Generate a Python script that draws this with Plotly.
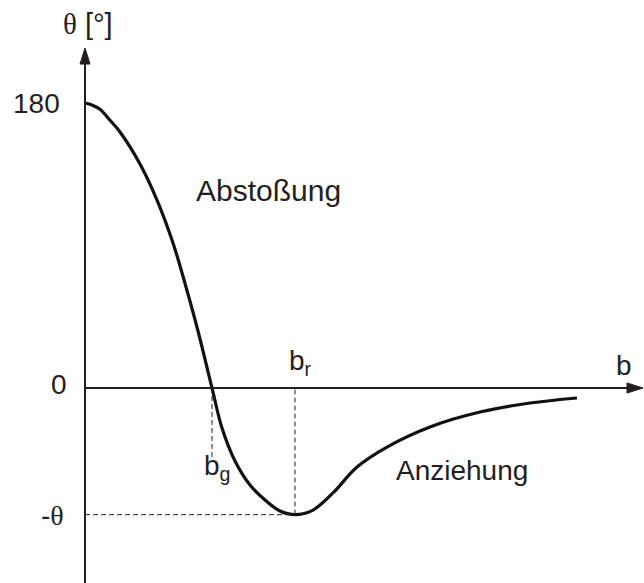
import plotly.graph_objects as go

# Deflection angle theta (degrees) versus impact parameter b (arbitrary units)
b_vals = [0.00, 0.07, 0.15, 0.25, 0.35, 0.55, 0.72, 0.88, 1.01, 1.13, 1.27, 1.37, 1.50, 1.65,
          1.80, 1.95, 2.10, 2.28, 2.48, 2.72, 3.02, 3.45, 3.95, 4.45, 4.92]
theta_vals = [180.0, 178.7, 176.1, 169.1, 161.7, 141.5, 118.7, 91.6, 63.8, 36.0, 0.0, -25.3,
              -46.1, -61.3, -70.7, -77.7, -80.0, -77.1, -66.3, -49.9, -37.3, -24.6, -15.2,
              -9.5, -6.3]

b_g = 1.27        # glory impact parameter (theta = 0)
b_r = 2.10        # rainbow impact parameter (theta minimum)
theta_min = -80.0

tick_labels = ["180", "0", "-θ"]
tick_values = [180.0, 0.0, theta_min]

X_RANGE = [-0.85, 5.59]
Y_RANGE = [-123.16, 245.05]
INK = "#231f20"
SANS = "Liberation Sans, Arial, sans-serif"
SERIF = "Liberation Serif, Times New Roman, serif"

fig = go.Figure()

# the deflection curve
fig.add_trace(go.Scatter(
    x=b_vals, y=theta_vals, mode="lines",
    line=dict(color="#111111", width=3.2, shape="spline", smoothing=1.0),
    hoverinfo="skip", showlegend=False,
))

shapes = []
# axes with arrow heads
y_tip, y_base = 214.7, 204.6
x_tip, x_base = 5.58, 5.42
shapes.append(dict(type="line", xref="x", yref="y", x0=0, x1=0, y0=Y_RANGE[0], y1=y_base + 1,
                   line=dict(color=INK, width=2)))
shapes.append(dict(type="path", xref="x", yref="y",
                   path=f"M 0,{y_tip} L -0.05,{y_base} L 0.05,{y_base} Z",
                   fillcolor=INK, line=dict(color=INK, width=1)))
shapes.append(dict(type="line", xref="x", yref="y", x0=0, x1=x_base + 0.01, y0=0, y1=0,
                   line=dict(color=INK, width=2)))
shapes.append(dict(type="path", xref="x", yref="y",
                   path=f"M {x_tip},0 L {x_base},3.2 L {x_base},-3.2 Z",
                   fillcolor=INK, line=dict(color=INK, width=1)))

# dashed guide lines
dash = "5px,3px"
shapes.append(dict(type="line", xref="x", yref="y", x0=b_g, x1=b_g, y0=0, y1=-44,
                   line=dict(color=INK, width=1, dash=dash)))
shapes.append(dict(type="line", xref="x", yref="y", x0=b_r, x1=b_r, y0=-1, y1=theta_min,
                   line=dict(color=INK, width=1, dash=dash)))
shapes.append(dict(type="line", xref="x", yref="y", x0=0, x1=b_r, y0=theta_min, y1=theta_min,
                   line=dict(color=INK, width=1, dash=dash)))

annotations = []


def label(text, x, y, xanchor="center", yanchor="middle", size=28, family=SANS):
    annotations.append(dict(text=text, x=x, y=y, xref="x", yref="y", showarrow=False,
                            xanchor=xanchor, yanchor=yanchor,
                            font=dict(family=family, size=size, color=INK)))


# y tick labels
tick_x = [-0.23, -0.16, -0.19]
tick_y_shift = [0.0, 2.5, -0.8]
for txt, val, tx, dy in zip(tick_labels, tick_values, tick_x, tick_y_shift):
    if "θ" in txt:
        txt = f"-<span style='font-family:{SERIF}'>θ</span>"
    label(txt, tx, val + dy, xanchor="right")

# axis titles
label(f"<span style='font-family:{SERIF}'>θ</span> [°]", 0.03, 229.9, size=29)
label("b", 5.39, 14.5)

# characteristic impact parameters
label("b<sub>r</sub>", 2.02, 16.0, xanchor="left")
label("b<sub>g</sub>", 1.17, -50.5, xanchor="left")

# regions
label("Abstoßung", 1.09, 125.0, xanchor="left", size=30)
label("Anziehung", 3.09, -51.8, xanchor="left")

fig.update_layout(
    width=644, height=583,
    margin=dict(l=0, r=0, t=0, b=0),
    paper_bgcolor="white", plot_bgcolor="white",
    xaxis=dict(range=X_RANGE, visible=False, fixedrange=True),
    yaxis=dict(range=Y_RANGE, visible=False, fixedrange=True),
    shapes=shapes, annotations=annotations,
    showlegend=False,
)

fig.write_html("out.html")
